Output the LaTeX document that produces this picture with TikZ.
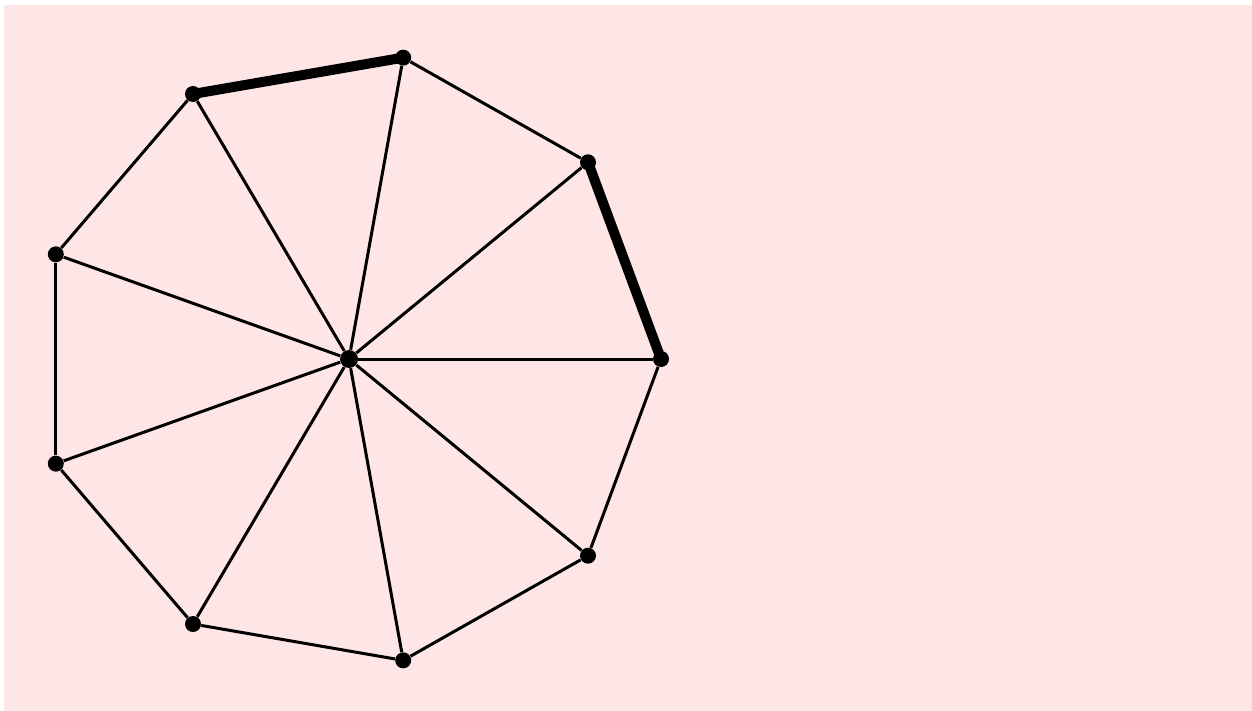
\documentclass[tikz,border=0pt]{standalone}
\usepackage{tikz}
\usetikzlibrary{calc}
\definecolor{bgpink}{RGB}{254, 230, 230}

\tikzset{
  vtx/.style={circle, fill=black, inner sep=0pt, minimum size=8pt},
  spoke/.style={line width=1.5pt},
  heavy/.style={line width=5pt, line cap=round}
}

\begin{document}
\begin{tikzpicture}[x=0.5pt, y=-0.5pt]
  % ===== 背景 =====
  \useasboundingbox (0,0) rectangle (1252,711);
  \fill[white] (0,0) rectangle (1252,711);
  \fill[bgpink] (4,5) rectangle (1252,711);

  % ===== 轮图 W9 =====
  \node[vtx, minimum size=9pt] (c) at (349,359) {};
  \foreach \i in {0,...,8} {
    \node[vtx] (v\i) at ($(349,359)+({312*cos(40*\i)},{-306*sin(40*\i)})$) {};
  }

  % 辐条
  \foreach \i in {0,...,8} {
    \draw[spoke] (c) -- (v\i);
  }

  % 外圈
  \foreach \i/\j in {1/2, 3/4, 4/5, 5/6, 6/7, 7/8, 8/0} {
    \draw[spoke] (v\i) -- (v\j);
  }
  \draw[heavy] (v0.center) -- (v1.center);
  \draw[heavy] (v2.center) -- (v3.center);
\end{tikzpicture}
\end{document}
